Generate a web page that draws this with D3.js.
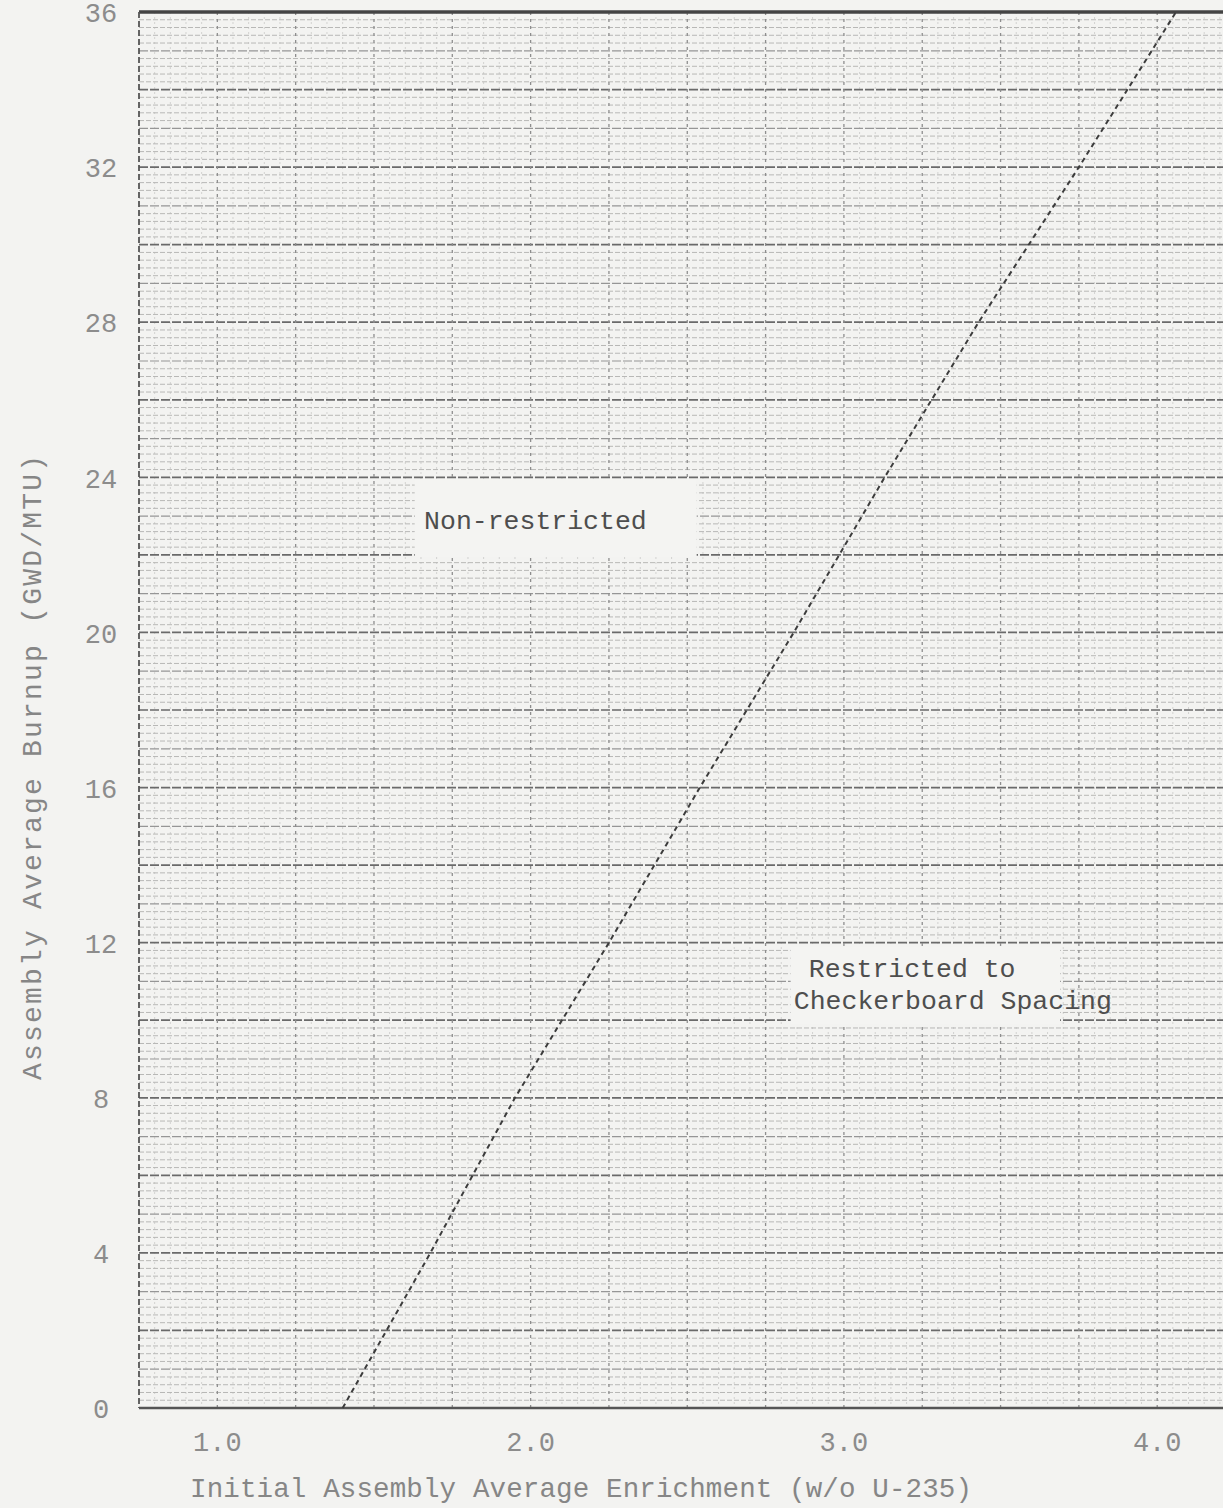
<!DOCTYPE html>
<meta charset="utf-8">
<html>
<head>
<title>Burnup vs enrichment</title>
<script src="https://d3js.org/d3.v7.min.js"></script>
<style>
body { margin: 0; background: #f3f3f1; }
svg { display: block; }
.tick-label { font-family: "Liberation Mono", "DejaVu Sans Mono", monospace; fill: #8c8c8c; }
.axis-label { font-family: "Liberation Mono", "DejaVu Sans Mono", monospace; fill: #868686; }
.note { font-family: "Liberation Mono", "DejaVu Sans Mono", monospace; fill: #4e4e4e; }
</style>
</head>
<body>
<div id="chart"></div>
<script>
// boundary line (enrichment w/o, burnup GWD/MTU)
var limitEnrichment = [1.40, 1.68, 1.95, 2.25, 2.54, 2.84, 3.13, 3.43, 3.75, 4.06];
var limitBurnup     = [0,    4,    8,    12,   16,   20,   24,   28,   32,   36];

// tick labels
var xTicks = [1.0, 2.0, 3.0, 4.0];
var yTicks = [0, 4, 8, 12, 16, 20, 24, 28, 32, 36];

// region labels (enrichment, burnup of first text line)
var noteText = [["Non-restricted"], ["Restricted to", "Checkerboard Spacing"]];
var noteX    = [1.66, 2.84];
var noteY    = [22.9, 11.35];
var noteBox  = [[1.63, 2.53, 21.95, 23.95], [2.83, 3.69, 9.9, 11.9]];

var width = 1223, height = 1508;
var margin = { top: 12, left: 139, bottom: 100 };

var x = d3.scaleLinear().domain([0.75, 4.21]).range([margin.left, width]);
var y = d3.scaleLinear().domain([0, 36]).range([height - margin.bottom, margin.top]);

var svg = d3.select("#chart").append("svg")
    .attr("width", width)
    .attr("height", height);

svg.append("rect").attr("width", width).attr("height", height).attr("fill", "#f3f3f1");

var grid = svg.append("g");

// fine vertical rulings every 0.05
grid.selectAll(".vmin")
    .data(d3.range(0.8, 4.21, 0.05).filter(function (d) { return Math.abs(d * 4 - Math.round(d * 4)) > 0.01; }))
    .enter().append("line")
    .attr("x1", function (d) { return x(d); }).attr("x2", function (d) { return x(d); })
    .attr("y1", y(36)).attr("y2", y(0))
    .attr("stroke", "#d2d2d0").attr("stroke-width", 1)
    .attr("stroke-dasharray", "2,3");

// horizontal rulings every 0.2
var hvals = d3.range(0, 181).map(function (i) { return i / 5; });
grid.selectAll(".hmin")
    .data(hvals.filter(function (d) { return Math.abs(d - Math.round(d)) > 0.01; }))
    .enter().append("line")
    .attr("x1", x(0.75)).attr("x2", width)
    .attr("y1", function (d) { return y(d); }).attr("y2", function (d) { return y(d); })
    .attr("stroke", "#b8b8b6").attr("stroke-width", 1)
    .attr("stroke-dasharray", "5,2");

// unit rulings, darker every 2
grid.selectAll(".hmaj")
    .data(d3.range(1, 36))
    .enter().append("line")
    .attr("x1", x(0.75)).attr("x2", width)
    .attr("y1", function (d) { return y(d); }).attr("y2", function (d) { return y(d); })
    .attr("stroke", function (d) { return d % 2 === 0 ? "#6a6a6a" : "#969696"; })
    .attr("stroke-width", function (d) { return d % 2 === 0 ? 1.7 : 1.2; })
    .attr("stroke-dasharray", "9,2");

// vertical rulings every 0.25
grid.selectAll(".vmaj")
    .data(d3.range(1, 17).map(function (i) { return 0.75 + i * 0.25; }))
    .enter().append("line")
    .attr("x1", function (d) { return x(d); }).attr("x2", function (d) { return x(d); })
    .attr("y1", y(36)).attr("y2", y(0))
    .attr("stroke", "#8e8e8e").attr("stroke-width", 1.3)
    .attr("stroke-dasharray", "3,4");

// frame
svg.append("line")
    .attr("x1", x(0.75)).attr("x2", width).attr("y1", y(36)).attr("y2", y(36))
    .attr("stroke", "#444").attr("stroke-width", 3.5);
svg.append("line")
    .attr("x1", x(0.75)).attr("x2", width).attr("y1", y(0)).attr("y2", y(0))
    .attr("stroke", "#555").attr("stroke-width", 2.5);
svg.append("line")
    .attr("x1", x(0.75)).attr("x2", x(0.75)).attr("y1", y(36)).attr("y2", y(0))
    .attr("stroke", "#555").attr("stroke-width", 1.8)
    .attr("stroke-dasharray", "6,3");

// boundary line
var line = d3.line()
    .x(function (d) { return x(d[0]); })
    .y(function (d) { return y(d[1]); });

svg.append("path")
    .datum(d3.zip(limitEnrichment, limitBurnup))
    .attr("d", line)
    .attr("fill", "none")
    .attr("stroke", "#3c3c3c")
    .attr("stroke-width", 2)
    .attr("stroke-dasharray", "5,4");

// region labels with blanked paper behind them
noteText.forEach(function (lines, i) {
    var b = noteBox[i];
    svg.append("rect")
        .attr("x", x(b[0])).attr("y", y(b[3]))
        .attr("width", x(b[1]) - x(b[0])).attr("height", y(b[2]) - y(b[3]))
        .attr("fill", "#f4f4f2");
    lines.forEach(function (t, j) {
        svg.append("text")
            .attr("class", "note")
            .attr("x", x(noteX[i]) + (i === 1 && j === 0 ? 15 : 0))
            .attr("y", y(noteY[i]) + j * 32)
            .attr("dy", "0.35em")
            .style("font-size", "26.5px")
            .text(t);
    });
});

// y tick labels
svg.selectAll(".ylab")
    .data(yTicks)
    .enter().append("text")
    .attr("class", "tick-label")
    .attr("x", 101)
    .attr("y", function (d) { return y(d); })
    .attr("dy", "0.38em")
    .attr("text-anchor", "middle")
    .style("font-size", "27px")
    .text(function (d) { return d; });

// x tick labels
svg.selectAll(".xlab")
    .data(xTicks)
    .enter().append("text")
    .attr("class", "tick-label")
    .attr("x", function (d) { return x(d); })
    .attr("y", 1442)
    .attr("dy", "0.35em")
    .attr("text-anchor", "middle")
    .style("font-size", "27px")
    .text(function (d) { return d.toFixed(1); });

// axis titles
svg.append("text")
    .attr("class", "axis-label")
    .attr("x", 190)
    .attr("y", 1487)
    .attr("dy", "0.35em")
    .style("font-size", "27.5px")
    .attr("textLength", 782)
    .text("Initial Assembly Average Enrichment (w/o U-235)");

svg.append("text")
    .attr("class", "axis-label")
    .attr("transform", "translate(31,1080) rotate(-90)")
    .attr("dy", "0.35em")
    .style("font-size", "28px")
    .attr("textLength", 625)
    .text("Assembly Average Burnup  (GWD/MTU)");
</script>
</body>
</html>
